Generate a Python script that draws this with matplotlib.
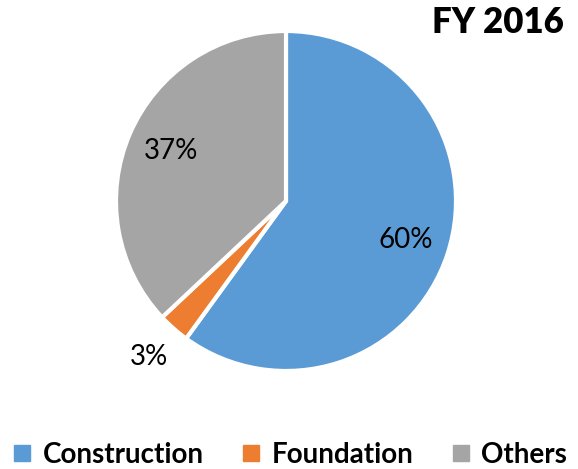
import numpy as np
import matplotlib.pyplot as plt
from matplotlib.lines import Line2D

plt.switch_backend('agg')
plt.rcParams['font.family'] = ['Lato', 'DejaVu Sans']

# Share of work by segment, FY 2016
labels = ['Construction', 'Foundation', 'Others']
shares = [60, 3, 37]
colors = ['#5B9BD5', '#ED7D31', '#A5A5A5']

W, H = 578, 469
fig = plt.figure(figsize=(W / 100, H / 100), dpi=100)

# pie centred at (286, 201) px with radius 170 px
cx, cy, r = 286, 201, 170
ax = fig.add_axes([(cx - r) / W, (H - cy - r) / H, 2 * r / W, 2 * r / H])

wedges, texts, autotexts = ax.pie(
    shares, colors=colors, startangle=90, counterclock=False,
    autopct='%1.0f%%', pctdistance=0.74,
    wedgeprops=dict(edgecolor='white', linewidth=3),
    textprops=dict(fontsize=20, color='black'))
ax.set_xlim(-1, 1)
ax.set_ylim(-1, 1)
ax.set_aspect('equal')

# small slice label sits outside the pie
for w, t, v in zip(wedges, autotexts, shares):
    if v < 5:
        ang = np.radians((w.theta1 + w.theta2) / 2)
        t.set_position((1.22 * np.cos(ang), 1.22 * np.sin(ang)))

fig.text(0.975, 0.953, 'FY 2016', ha='right', va='center',
         fontsize=25, fontweight='heavy')

handles = [Line2D([], [], marker='s', linestyle='', markersize=11,
                  markerfacecolor=c, markeredgecolor=c) for c in colors]
fig.legend(handles, labels, loc='center', bbox_to_anchor=(0.5, 0.03),
           ncol=3, frameon=False, handletextpad=0.35, columnspacing=1.3,
           handlelength=0.8, prop=dict(size=20, weight='bold'))

fig.savefig('out.png', dpi=100)
